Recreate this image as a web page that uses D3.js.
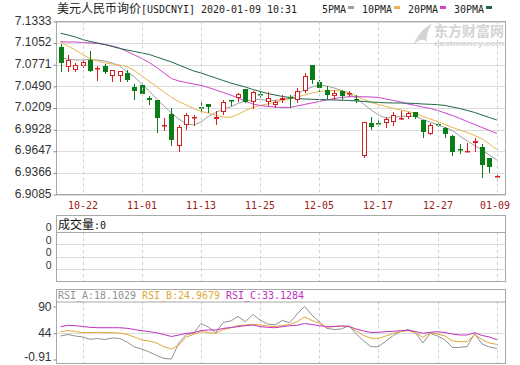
<!DOCTYPE html>
<html><head><meta charset="utf-8">
<script src="https://cdnjs.cloudflare.com/ajax/libs/d3/7.8.5/d3.min.js"></script>
<style>
html,body{margin:0;padding:0;background:#fff;}
svg{display:block;}
</style></head><body>
<svg id="c" width="520" height="365"></svg>
<script>
// ---------------- data ----------------
const dates = ["2019-10-17","2019-10-18","2019-10-21","2019-10-22","2019-10-23","2019-10-24","2019-10-25","2019-10-28","2019-10-29","2019-10-30","2019-10-31","2019-11-01","2019-11-04","2019-11-05","2019-11-06","2019-11-07","2019-11-08","2019-11-11","2019-11-12","2019-11-13","2019-11-14","2019-11-15","2019-11-18","2019-11-19","2019-11-20","2019-11-21","2019-11-22","2019-11-25","2019-11-26","2019-11-27","2019-11-28","2019-11-29","2019-12-02","2019-12-03","2019-12-04","2019-12-05","2019-12-06","2019-12-09","2019-12-10","2019-12-11","2019-12-12","2019-12-13","2019-12-16","2019-12-17","2019-12-18","2019-12-19","2019-12-20","2019-12-23","2019-12-24","2019-12-25","2019-12-26","2019-12-27","2019-12-30","2019-12-31","2020-01-02","2020-01-03","2020-01-06","2020-01-07","2020-01-08","2020-01-09"];
const open = [7.1002,7.0738,7.0707,7.0759,7.0830,7.0716,7.0751,7.0621,7.0621,7.0664, 7.0478,7.0512,7.0339,7.0317,6.9979,7.0131,6.9711,6.9992,7.0079,7.0226, 7.0257,7.0060,7.0161,7.0307,7.0335,7.0452,7.0283,7.0391,7.0283,7.0248, 7.0313,7.0356,7.0307,7.0430,7.0768,7.0551,7.0443,7.0362,7.0430,7.0397, 7.0326,6.9585,7.0010,7.0010,7.0010,7.0031,7.0073,7.0088,7.0161,7.0053, 6.9867,6.9995,6.9945,6.9845,6.9676,6.9648,6.9750,6.9698,6.9556,6.9314];
const close = [7.0800,7.0829,7.0772,7.0803,7.0694,7.0729,7.0673,7.0699,7.0686,7.0577, 7.0434,7.0395,7.0317,7.0079,6.9992,6.9797,6.9958,7.0122,7.0088,7.0218, 7.0218,7.0086,7.0283,7.0294,7.0395,7.0291,7.0421,7.0378,7.0335,7.0291, 7.0343,7.0346,7.0430,7.0625,7.0579,7.0465,7.0372,7.0408,7.0362,7.0404, 7.0319,7.0031,6.9966,6.9997,7.0062,7.0118,7.0079,7.0140,7.0096,6.9901, 6.9988,6.9982,6.9871,6.9641,6.9668,6.9653,6.9780,6.9468,6.9446,6.9319];
const high = [7.1045,7.0894,7.0794,7.0846,7.0947,7.0755,7.0781,7.0707,7.0694,7.0707, 7.0521,7.0518,7.0369,7.0319,7.0079,7.0209,6.9992,7.0144,7.0114,7.0287, 7.0261,7.0170,7.0313,7.0313,7.0408,7.0456,7.0434,7.0421,7.0421,7.0313, 7.0378,7.0378,7.0465,7.0668,7.0768,7.0573,7.0495,7.0447,7.0447,7.0436, 7.0372,7.0031,7.0096,7.0053,7.0096,7.0161,7.0174,7.0161,7.0163,7.0053, 7.0010,7.0010,6.9966,6.9858,6.9741,6.9750,6.9815,6.9741,6.9556,6.9339];
const low = [7.0694,7.0694,7.0686,7.0738,7.0690,7.0579,7.0664,7.0556,7.0556,7.0564, 7.0330,7.0382,7.0261,6.9897,6.9927,6.9724,6.9654,6.9940,6.9992,7.0157, 7.0161,7.0001,7.0131,7.0248,7.0304,7.0283,7.0205,7.0348,7.0248,7.0226, 7.0283,7.0222,7.0281,7.0411,7.0530,7.0430,7.0339,7.0322,7.0320,7.0365, 7.0291,6.9568,6.9932,6.9975,6.9966,6.9988,7.0070,7.0075,7.0075,6.9836, 6.9865,6.9972,6.9828,6.9598,6.9620,6.9646,6.9650,6.9316,6.9381,6.9273];
const ma5 = [7.0859,7.0846,7.0833,7.0833,7.0839,7.0833,7.0820,7.0794,7.0755,7.0677, 7.0612,7.0521,7.0430,7.0326,7.0235,7.0144,7.0066,7.0001,6.9988,7.0027, 7.0099,7.0151,7.0196,7.0222,7.0268,7.0300,7.0313,7.0322,7.0307,7.0307, 7.0320,7.0339,7.0391,7.0443,7.0482,7.0508,7.0495,7.0469,7.0436,7.0391, 7.0339,7.0261,7.0183,7.0118,7.0079,7.0086,7.0099,7.0105,7.0099,7.0060, 7.0027,6.9988,6.9956,6.9917,6.9845,6.9780,6.9722,6.9663,6.9598,6.9533];
const ma10 = [7.1067,7.1015,7.0963,7.0904,7.0852,7.0820,7.0794,7.0781,7.0768,7.0748, 7.0696,7.0625,7.0553,7.0488,7.0417,7.0346,7.0294,7.0248,7.0203,7.0164, 7.0144,7.0112,7.0092,7.0086,7.0125,7.0177,7.0216,7.0242,7.0261,7.0287, 7.0307,7.0326,7.0352,7.0378,7.0404,7.0424,7.0434,7.0434,7.0430,7.0410, 7.0365,7.0320,7.0281,7.0255,7.0229,7.0203,7.0183,7.0164,7.0138,7.0099, 7.0066,7.0034,6.9995,6.9956,6.9923,6.9891,6.9852,6.9806,6.9741,6.9670];
const ma20 = [7.1071,7.1067,7.1067,7.1060,7.1054,7.1047,7.1034,7.1015,7.0989,7.0943, 7.0898,7.0852,7.0800,7.0735,7.0664,7.0592,7.0560,7.0540,7.0521,7.0504, 7.0475,7.0443,7.0410,7.0378,7.0339,7.0300,7.0261,7.0242,7.0229,7.0222, 7.0216,7.0216,7.0235,7.0255,7.0274,7.0294,7.0313,7.0333,7.0346,7.0355, 7.0356,7.0355,7.0352,7.0346,7.0326,7.0307,7.0287,7.0261,7.0242,7.0222, 7.0203,7.0177,7.0144,7.0112,7.0073,7.0034,6.9995,6.9956,6.9917,6.9878];
const ma30 = [7.1180,7.1158,7.1132,7.1099,7.1073,7.1054,7.1034,7.1008,7.0982,7.0963, 7.0943,7.0924,7.0904,7.0872,7.0839,7.0807,7.0768,7.0729,7.0690,7.0664, 7.0631,7.0599,7.0566,7.0534,7.0508,7.0482,7.0449,7.0424,7.0398,7.0378, 7.0359,7.0346,7.0333,7.0326,7.0322,7.0318,7.0316,7.0313,7.0310,7.0307, 7.0300,7.0294,7.0287,7.0281,7.0277,7.0274,7.0274,7.0271,7.0268,7.0261, 7.0257,7.0252,7.0242,7.0222,7.0203,7.0177,7.0151,7.0118,7.0086,7.0053];
const rsiA = [39.4,42.0,39.4,37.7,33.7,35.1,33.4,36.0,35.1,29.1, 20.5,17.1,12.0,5.9,0.8,0.0,27.4,42.0,44.0,60.8, 54.8,45.1,62.6,65.1,72.8,63.9,76.3,66.8,60.0,58.3, 66.0,62.2,77.1,90.0,75.4,63.4,52.6,50.5,51.4,57.1, 42.8,30.8,21.0,21.0,30.8,40.3,47.1,50.5,45.4,27.4, 44.0,39.4,32.5,19.7,19.7,21.4,43.7,25.7,20.5,18.1029];
const rsiB = [46.8,48.8,47.1,45.1,45.4,45.7,45.4,45.1,44.5,42.0, 37.7,32.5,30.8,27.4,21.0,17.1,24.0,37.7,42.0,46.8, 45.4,44.0,50.5,53.1,57.4,58.3,59.5,58.3,56.6,55.7, 57.4,59.1,63.9,72.0,66.0,61.2,54.3,55.7,56.6,55.4, 48.0,40.3,35.5,35.5,39.4,44.0,47.1,48.8,45.1,37.2, 45.1,42.8,39.4,30.8,29.6,29.6,42.0,33.4,27.4,24.9679];
const rsiC = [55.4,57.8,57.1,55.7,54.3,53.6,53.6,53.6,53.6,52.6, 50.5,48.5,46.8,45.1,42.0,38.5,41.1,44.0,45.1,48.8, 49.7,49.7,52.3,54.0,55.4,57.1,58.3,55.4,54.3,53.6, 55.4,57.1,57.8,60.8,59.1,57.1,55.4,55.7,56.6,55.7, 51.4,48.0,45.4,45.7,46.8,47.5,48.5,49.2,47.1,44.0, 45.7,46.8,45.4,42.8,41.1,41.1,45.1,40.3,37.7,33.1284];
const yTickLabels = ["7.1333","7.1052","7.0771","7.0490","7.0209","6.9928","6.9647","6.9366","6.9085"];
const xTickDates = ["2019-10-22","2019-11-01","2019-11-13","2019-11-25","2019-12-05","2019-12-17","2019-12-27","2020-01-09"];
const volTickLabels = ["0","0","0","0"];
const rsiTickLabels = ["90","44","-0.91"];
const maNames = ["5PMA","10PMA","20PMA","30PMA"];
const rsiNames = ["RSI_A","RSI_B","RSI_C"];
const titleCN = "美元人民币询价";
const titleEN = "[USDCNYI] 2020-01-09 10:31";
const volTitleCN = "成交量";
const volValue = ":0";

// ---------------- styles ----------------
const maColors = ["#a0a0a0","#e8b44c","#cc44cc","#1f6648"];
const rsiColors = ["#909090","#e0a838","#c030c0"];
const UP = "#d42020", DOWN = "#0b7d16";
const GRID = "#dcdcdc", FRAME = "#a8a8a8";
const MONO = "'DejaVu Sans Mono', monospace";
const CJK = "'Noto Sans CJK SC', sans-serif";
const SANS = "'Liberation Sans', Arial, sans-serif";

const svg = d3.select("#c");
const PL = 56.5, PR = 505.5;
const main = {t:21.5, b:194.5};
const vol = {t:215.5, h:232, b:281.5};
const rsi = {t:289.5, h:301.5, b:363.5};

const x = d3.scalePoint().domain(dates).range([60.5, 496.8]);
const y = d3.scaleLinear().domain([6.9085, 7.1333]).range([main.b, main.t]);
const yV = d3.scaleLinear().domain([0, 4]).range([vol.b, vol.h]);
const yR = d3.scaleLinear().domain([-0.91, 90]).range([359.5, 306.5]);
const cx = d => Math.round(x(d));

function mono(g, str, px, py, color, anchor, size) {
  const s = size || 11;
  return g.append("text").attr("x", px).attr("y", py).text(str)
    .attr("font-family", MONO).attr("font-size", s).attr("fill", color)
    .attr("text-anchor", anchor || "start")
    .attr("textLength", str.length * 6).attr("lengthAdjust", "spacingAndGlyphs");
}

// ---------------- header ----------------
svg.append("text").attr("x", 57).attr("y", 13).text(titleCN)
  .attr("font-family", CJK).attr("font-size", 12).attr("fill", "#222");
mono(svg, titleEN, 57 + titleCN.length * 12, 12.5, "#222");
let lx = 322;
maNames.forEach((n, i) => {
  mono(svg, n, lx, 12.5, "#222");
  svg.append("rect").attr("x", lx + n.length * 6 + 2).attr("y", 6).attr("width", 6).attr("height", 3)
    .attr("fill", maColors[i]);
  lx += n.length * 6 + 16;
});

// ---------------- main panel ----------------
const gMain = svg.append("g");
gMain.append("g").selectAll("line").data(yTickLabels.map(Number)).join("line")
  .attr("x1", PL).attr("x2", PR)
  .attr("y1", d => Math.round(y(d)) + 0.5).attr("y2", d => Math.round(y(d)) + 0.5)
  .attr("stroke", GRID);
function vgrid(t, b) {
  svg.append("g").selectAll("line").data(xTickDates).join("line")
    .attr("x1", d => cx(d) + 0.5).attr("x2", d => cx(d) + 0.5)
    .attr("y1", t).attr("y2", b)
    .attr("stroke", "#cfcfcf").attr("stroke-dasharray", "3,3");
}
vgrid(main.t, main.b);

// watermark
const wm = svg.append("g").attr("fill", "#d4d4d4");
wm.append("path").attr("d", "M414,44 C418,34 424,27 432,24 C428,30 426,36 427,42 C423,38 419,40 414,44 Z");
wm.append("text").attr("x", 434).attr("y", 36).text("东方财富网")
  .attr("font-family", CJK).attr("font-size", 14).attr("font-weight", "bold")
  .attr("textLength", 70).attr("lengthAdjust", "spacingAndGlyphs");
wm.append("text").attr("x", 434).attr("y", 45.5).text("eastmoney.com")
  .attr("font-family", SANS).attr("font-size", 7).attr("font-weight", "bold")
  .attr("textLength", 70).attr("lengthAdjust", "spacingAndGlyphs");

// MA lines
const maSeries = [ma5, ma10, ma20, ma30];
maSeries.forEach((s, k) => {
  gMain.append("path")
    .attr("d", d3.line().x((v, i) => x(dates[i])).y(v => y(v))(s))
    .attr("fill", "none").attr("stroke", maColors[k]).attr("stroke-width", 1);
});

// candles
const candles = dates.map((d, i) => ({d, o: open[i], c: close[i], h: high[i], l: low[i]}));
const gC = gMain.append("g");
candles.forEach(k => {
  const up = k.c >= k.o;
  const col = up ? UP : DOWN;
  const X = cx(k.d);
  gC.append("line").attr("x1", X + 0.5).attr("x2", X + 0.5)
    .attr("y1", Math.round(y(k.h))).attr("y2", Math.round(y(k.l)) + 1)
    .attr("stroke", col);
  const top = Math.round(y(Math.max(k.o, k.c)));
  const bot = Math.round(y(Math.min(k.o, k.c)));
  if (up) {
    const hgt = Math.max(bot - top, 1);
    if (hgt <= 1) {
      gC.append("rect").attr("x", X - 2).attr("y", top).attr("width", 5).attr("height", 1.5).attr("fill", col);
    } else {
      gC.append("rect").attr("x", X - 1.5).attr("y", top + 0.5).attr("width", 4).attr("height", hgt - 1)
        .attr("fill", "#fff").attr("stroke", col).attr("stroke-width", 1);
    }
  } else {
    gC.append("rect").attr("x", X - 2).attr("y", top).attr("width", 5).attr("height", Math.max(bot - top, 1.5))
      .attr("fill", col);
  }
});

gMain.append("rect").attr("x", PL).attr("y", main.t).attr("width", PR - PL).attr("height", main.b - main.t)
  .attr("fill", "none").attr("stroke", FRAME);

const yAxis = d3.axisLeft(y).tickValues(yTickLabels.map(Number))
  .tickFormat((d, i) => yTickLabels[i]).tickSize(3).tickPadding(2);
const gy = svg.append("g").attr("transform", `translate(${PL},0)`).call(yAxis);
gy.select(".domain").remove();
gy.selectAll(".tick line").attr("stroke", "#888");
gy.selectAll(".tick text").attr("font-family", SANS).attr("font-size", 12).attr("fill", "#333").attr("dy", "0.22em");

svg.append("g").selectAll("text").data(xTickDates).join("text")
  .attr("x", d => Math.min(cx(d), 495)).attr("y", 209).text(d => d.slice(5))
  .attr("font-family", MONO).attr("font-size", 11).attr("fill", "#9b2020")
  .attr("text-anchor", "middle").attr("textLength", 30).attr("lengthAdjust", "spacingAndGlyphs");

// ---------------- volume panel ----------------
svg.append("g").selectAll("line").data([3, 2, 1]).join("line")
  .attr("x1", PL).attr("x2", PR)
  .attr("y1", d => Math.round(yV(d)) + 0.5).attr("y2", d => Math.round(yV(d)) + 0.5)
  .attr("stroke", GRID);
vgrid(vol.h, vol.b);
svg.append("rect").attr("x", PL).attr("y", vol.t).attr("width", PR - PL).attr("height", vol.b - vol.t)
  .attr("fill", "none").attr("stroke", FRAME);
svg.append("line").attr("x1", PL).attr("x2", PR).attr("y1", vol.h + 0.5).attr("y2", vol.h + 0.5).attr("stroke", FRAME);
svg.append("text").attr("x", 58).attr("y", 228.5).text(volTitleCN)
  .attr("font-family", CJK).attr("font-size", 12).attr("fill", "#111");
mono(svg, volValue, 58 + 36, 228.5, "#111");
const vAxis = d3.axisLeft(yV).tickValues([4, 3, 2, 1]).tickFormat((d, i) => volTickLabels[i]).tickSize(0).tickPadding(5);
const gv = svg.append("g").attr("transform", `translate(${PL},0)`).call(vAxis);
gv.select(".domain").remove();
gv.selectAll(".tick text").attr("font-family", SANS).attr("font-size", 10.5).attr("fill", "#333").attr("dy", "-0.1em");

// ---------------- RSI panel ----------------
svg.append("line").attr("x1", PL).attr("x2", PR)
  .attr("y1", Math.round(yR(44)) + 0.5).attr("y2", Math.round(yR(44)) + 0.5).attr("stroke", GRID);
vgrid(rsi.h, rsi.b);
[rsiA, rsiB, rsiC].forEach((s, k) => {
  svg.append("path")
    .attr("d", d3.line().x((v, i) => x(dates[i])).y(v => yR(v))(s))
    .attr("fill", "none").attr("stroke", rsiColors[k]).attr("stroke-width", 1);
});
svg.append("rect").attr("x", PL).attr("y", rsi.t).attr("width", PR - PL).attr("height", rsi.b - rsi.t)
  .attr("fill", "none").attr("stroke", FRAME);
svg.append("line").attr("x1", PL).attr("x2", PR).attr("y1", rsi.h + 0.5).attr("y2", rsi.h + 0.5).attr("stroke", FRAME);
const rsiLast = [rsiA, rsiB, rsiC].map(s => s[s.length - 1]);
rsiNames.forEach((n, k) => {
  const str = n + ":" + d3.format(".4f")(rsiLast[k]);
  mono(svg, str, 58 + k * 84, 298.5, rsiColors[k]);
});
const rAxis = d3.axisLeft(yR).tickValues(rsiTickLabels.map(Number))
  .tickFormat((d, i) => rsiTickLabels[i]).tickSize(3).tickPadding(2);
const gr = svg.append("g").attr("transform", `translate(${PL},0)`).call(rAxis);
gr.select(".domain").remove();
gr.selectAll(".tick line").attr("stroke", "#888");
gr.selectAll(".tick text").attr("font-family", SANS).attr("font-size", 12).attr("fill", "#333")
  .attr("dy", (d, i) => i === rsiTickLabels.length - 1 ? "0.05em" : "0.3em");
</script></body></html>
